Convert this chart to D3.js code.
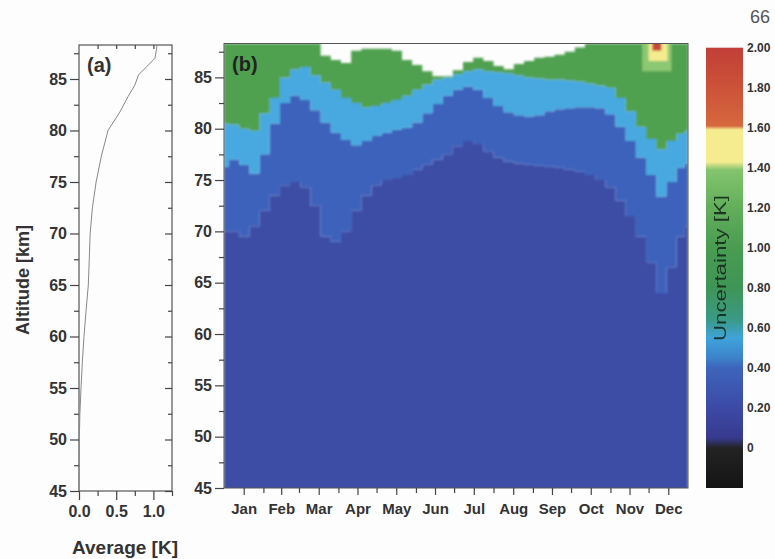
<!DOCTYPE html>
<html>
<head>
<meta charset="utf-8">
<script src="https://cdn.jsdelivr.net/npm/d3@7"></script>
<style>
body { margin: 0; background: #fdfdfd; }
text { font-family: "Liberation Sans", Arial, sans-serif; }
</style>
</head>
<body>
<svg id="chart" width="775" height="559"></svg>
<script>
// ---- data ----
const months = ["Jan", "Feb", "Mar", "Apr", "May", "Jun", "Jul", "Aug", "Sep", "Oct", "Nov", "Dec"];
const monthStart = [0, 31, 59, 90, 120, 151, 181, 212, 243, 273, 304, 334, 365];

// panel (a): mean uncertainty profile
const profileAlt = [45, 50, 52.5, 55, 57.5, 60, 62.5, 65, 67.5, 70, 72.5, 75, 77.5, 80, 81.8, 83.3, 84.4, 84.8, 85.4, 86.2, 87, 87.8, 88.3];
const profileAvg = [0, 0.004, 0.012, 0.027, 0.045, 0.067, 0.095, 0.125, 0.138, 0.15, 0.18, 0.23, 0.30, 0.39, 0.55, 0.66, 0.75, 0.77, 0.80, 0.91, 1.02, 1.04, 1.05];

// panel (b): day of year and altitude [km] of the colour boundaries
const days = [0, 8, 16, 24, 32, 40, 48, 56, 64, 72, 80, 88, 96, 104, 112, 120, 128, 136, 144, 152, 160, 168, 176, 184,
  192, 200, 208, 216, 224, 232, 240, 248, 256, 264, 272, 280, 288, 296, 304, 312, 320, 328, 336, 344, 352, 360, 365];
// top of the data (white above)
const dataTop = [88.3, 88.3, 88.3, 88.3, 88.3, 88.3, 88.3, 88.3, 88.3, 88.3, 87.1, 86.7, 86.4, 87.6, 87.8, 87.8, 87.8, 87.6,
  86.7, 86.2, 85.6, 85.1, 85.1, 85.7, 86.5, 86.9, 86.6, 86.1, 85.8, 86.3, 86.6, 86.9, 87.0, 87.2, 87.5, 87.9, 88.3, 88.3,
  88.3, 88.3, 88.3, 88.3, 88.3, 88.3, 88.3, 88.3, 88.3];
// 0.6 K level (green above)
const greenBase = [80.5, 80.4, 80.0, 79.8, 81.5, 83.0, 85.0, 85.8, 86.0, 85.2, 84.5, 83.8, 83.0, 82.5, 82.1, 82.2, 82.5, 82.8,
  83.2, 83.8, 84.3, 84.8, 85.0, 85.3, 85.6, 85.8, 85.6, 85.5, 85.4, 85.2, 85.0, 84.9, 84.8, 84.8, 84.7, 84.6, 84.4, 84.2,
  84.0, 83.0, 81.7, 80.2, 79.0, 78.0, 78.8, 79.5, 79.8];
// 0.4 K level (light blue above)
const cyanBase = [76.3, 77.0, 76.5, 75.6, 77.5, 80.5, 82.5, 83.2, 82.8, 81.8, 80.6, 79.6, 78.9, 78.4, 78.8, 79.3, 79.6, 79.9,
  80.1, 80.6, 81.5, 82.4, 83.2, 83.8, 84.1, 83.8, 83.0, 82.2, 81.6, 81.3, 81.2, 81.3, 81.7, 81.9, 82.0, 82.1, 82.1, 82.0,
  81.4, 80.2, 78.8, 77.2, 75.5, 73.4, 74.8, 76.2, 76.6];
// 0.3 K level (medium blue above)
const blueBase = [70.0, 70.0, 69.5, 70.5, 72.0, 73.5, 74.5, 74.8, 74.3, 72.5, 69.5, 69.0, 70.0, 72.0, 73.5, 74.5, 75.0, 75.2,
  75.5, 76.0, 76.5, 77.0, 77.5, 78.3, 78.8, 78.5, 77.8, 77.2, 76.8, 76.6, 76.5, 76.4, 76.3, 76.2, 76.0, 75.8, 75.5, 75.0,
  74.3, 73.0, 71.5, 69.5, 67.0, 64.0, 66.5, 69.5, 70.5];
// high-uncertainty patch in December
const spotStart = [329, 334, 337];
const spotEnd = [352, 349, 344];
const spotBase = [85.6, 86.6, 87.6];
const spotLevel = [1.3, 1.5, 1.8];

const cbTicks = [0, 0.2, 0.4, 0.6, 0.8, 1.0, 1.2, 1.4, 1.6, 1.8, 2.0];

// ---- drawing ----
const svg = d3.select("#chart");
const ink = "#333";

const levelColor = d3.scaleThreshold()
  .domain([0, 0.2, 0.3, 0.4, 0.6, 0.8, 1.0, 1.2, 1.4, 1.6, 1.8])
  .range(["#171717", "#39449c", "#3c4ea6", "#3e62bb", "#46a9df", "#50a050", "#4a9b50", "#55a955", "#8cc872", "#f4ec8e", "#d4623e", "#c6463a"]);

const defs = svg.append("defs");
defs.append("filter").attr("id", "soft").append("feGaussianBlur").attr("stdDeviation", 0.8);

// panel (a)
const ax = d3.scaleLinear().domain([0, 1.25]).range([79, 172]);
const ay = d3.scaleLinear().domain([45, 88.3]).range([491, 45]);
const gA = svg.append("g");

gA.append("rect").attr("x", 79).attr("y", 45).attr("width", 93).attr("height", 446)
  .attr("fill", "#fdfdfd").attr("stroke", "#555").attr("stroke-width", 1.2);

gA.append("path")
  .datum(profileAlt.map((a, i) => [profileAvg[i], a]))
  .attr("fill", "none").attr("stroke", "#888").attr("stroke-width", 1)
  .attr("d", d3.line().x(d => ax(d[0])).y(d => ay(d[1])));

const major = d3.range(45, 86, 5), minor = d3.range(47.5, 88, 5);

function ticksOnly(g) { g.select(".domain").remove(); g.selectAll("line").attr("stroke", "#444").attr("stroke-width", 1.2); }

gA.append("g").attr("transform", "translate(79,0)")
  .call(d3.axisLeft(ay).tickValues(major).tickSize(9).tickPadding(3).tickFormat(d3.format("d")))
  .call(ticksOnly)
  .call(g => g.selectAll("text").attr("font-size", 16).attr("font-weight", "bold").attr("fill", ink));
gA.append("g").attr("transform", "translate(79,0)")
  .call(d3.axisLeft(ay).tickValues(minor).tickSize(5).tickFormat("")).call(ticksOnly);
gA.append("g").attr("transform", "translate(172,0)")
  .call(d3.axisLeft(ay).tickValues(major).tickSize(7).tickFormat("")).call(ticksOnly);
gA.append("g").attr("transform", "translate(172,0)")
  .call(d3.axisLeft(ay).tickValues(minor).tickSize(4).tickFormat("")).call(ticksOnly);
gA.append("g").attr("transform", "translate(0,491)")
  .call(d3.axisBottom(ax).tickValues([0, 0.5, 1.0]).tickSize(9).tickPadding(6).tickFormat(d3.format(".1f")))
  .call(ticksOnly)
  .call(g => g.selectAll("text").attr("font-size", 16).attr("font-weight", "bold").attr("fill", ink));
gA.append("g").attr("transform", "translate(0,491)")
  .call(d3.axisBottom(ax).tickValues([0.25, 0.75, 1.25]).tickSize(5).tickFormat("")).call(ticksOnly);
gA.append("g").attr("transform", "translate(0,45)")
  .call(d3.axisBottom(ax).tickValues([0.25, 0.5, 0.75, 1.0]).tickSize(4).tickFormat("")).call(ticksOnly);

gA.append("text").attr("x", 87).attr("y", 72).attr("font-size", 20).attr("font-weight", "bold").attr("fill", ink).text("(a)");
gA.append("text").attr("x", 125).attr("y", 554).attr("text-anchor", "middle").attr("font-size", 19)
  .attr("font-weight", "bold").attr("fill", ink).text("Average [K]");
gA.append("text").attr("transform", "translate(29,280) rotate(-90)").attr("text-anchor", "middle")
  .attr("font-size", 18).attr("font-weight", "bold").attr("fill", ink).text("Altitude [km]");

// panel (b)
const bx = d3.scaleLinear().domain([0, 365]).range([224, 688]);
const by = d3.scaleLinear().domain([45, 88.3]).range([488, 43.5]);
const gB = svg.append("g");

defs.append("clipPath").attr("id", "clipB").append("rect")
  .attr("x", 224).attr("y", 43.5).attr("width", 464).attr("height", 444.5);
const field = gB.append("g").attr("clip-path", "url(#clipB)").append("g").attr("filter", "url(#soft)");

const pts = days.map((d, i) => ({ d: d, top: dataTop[i], g: greenBase[i], c: cyanBase[i], b: blueBase[i] }));
function layer(lo, hi, color) {
  field.append("path").datum(pts).attr("fill", color)
    .attr("d", d3.area().curve(d3.curveStep).x(p => bx(p.d)).y0(p => by(lo(p))).y1(p => by(hi(p))));
}
layer(p => 44, p => p.b, levelColor(0.25));
layer(p => p.b, p => p.c, levelColor(0.35));
layer(p => p.c, p => p.g, levelColor(0.5));
layer(p => p.g, p => p.top, levelColor(0.7));

spotStart.forEach((s, i) => {
  field.append("rect")
    .attr("x", bx(s)).attr("width", bx(spotEnd[i]) - bx(s))
    .attr("y", by(89)).attr("height", by(spotBase[i]) - by(89))
    .attr("fill", levelColor(spotLevel[i]));
});

gB.append("rect").attr("x", 224).attr("y", 43.5).attr("width", 464).attr("height", 444.5)
  .attr("fill", "none").attr("stroke", "#555").attr("stroke-width", 1);

gB.append("g").attr("transform", "translate(224,0)")
  .call(d3.axisLeft(by).tickValues(major).tickSize(9).tickPadding(3).tickFormat(d3.format("d")))
  .call(ticksOnly)
  .call(g => g.selectAll("text").attr("font-size", 16).attr("font-weight", "bold").attr("fill", ink));
gB.append("g").attr("transform", "translate(224,0)")
  .call(d3.axisLeft(by).tickValues(minor).tickSize(5).tickFormat("")).call(ticksOnly);

const mid = months.map((m, i) => (monthStart[i] + monthStart[i + 1]) / 2);
gB.append("g").attr("transform", "translate(0,488)")
  .call(d3.axisBottom(bx).tickValues(mid).tickSize(7).tickPadding(8).tickFormat((d, i) => months[i]))
  .call(ticksOnly)
  .call(g => g.selectAll("text").attr("font-size", 15).attr("font-weight", "bold").attr("fill", ink));
gB.append("g").attr("transform", "translate(0,488)")
  .call(d3.axisBottom(bx).tickValues(monthStart.slice(1, 12)).tickSize(5).tickFormat("")).call(ticksOnly);

gB.append("text").attr("x", 232).attr("y", 71).attr("font-size", 20).attr("font-weight", "bold").attr("fill", "#222").text("(b)");

// colour bar
const cy = d3.scaleLinear().domain([-0.2, 2.0]).range([488, 47.7]);
const stops = [[2.0, "#c13f38"], [1.8, "#cc5238"], [1.61, "#d6683e"], [1.59, "#f5ec90"], [1.43, "#f5ec90"], [1.39, "#84c46e"],
  [1.2, "#62ae5b"], [1.0, "#4a9c52"], [0.8, "#3f9556"], [0.64, "#3a9a86"], [0.55, "#3fa4da"], [0.45, "#3c82ca"],
  [0.4, "#3d64bc"], [0.2, "#3c4aa6"], [0.05, "#383a8e"], [0.0, "#232323"], [-0.2, "#141414"]];
const grad = defs.append("linearGradient").attr("id", "cbar")
  .attr("x1", 0).attr("y1", 0).attr("x2", 0).attr("y2", 1);
stops.forEach(s => grad.append("stop")
  .attr("offset", (cy(s[0]) - cy(2.0)) / (cy(-0.2) - cy(2.0))).attr("stop-color", s[1]));

svg.append("rect").attr("x", 706).attr("y", cy(2.0)).attr("width", 37).attr("height", cy(-0.2) - cy(2.0))
  .attr("fill", "url(#cbar)");
svg.append("g").selectAll("text").data(cbTicks).join("text")
  .attr("x", 747).attr("y", d => cy(d)).attr("dy", "0.35em")
  .attr("font-size", 12).attr("font-weight", "bold").attr("fill", ink)
  .text(d => d === 0 ? "0" : d3.format(".2f")(d));
svg.append("text").attr("transform", "translate(726,268) rotate(-90)").attr("text-anchor", "middle")
  .attr("font-size", 17).attr("textLength", 146).attr("lengthAdjust", "spacingAndGlyphs")
  .attr("fill", "#15291c").attr("opacity", 0.9).text("Uncertainty [K]");

svg.append("text").attr("x", 750).attr("y", 23).attr("font-family", "Liberation Serif, serif")
  .attr("font-size", 18).attr("fill", "#555").text("66");
</script>
</body>
</html>
